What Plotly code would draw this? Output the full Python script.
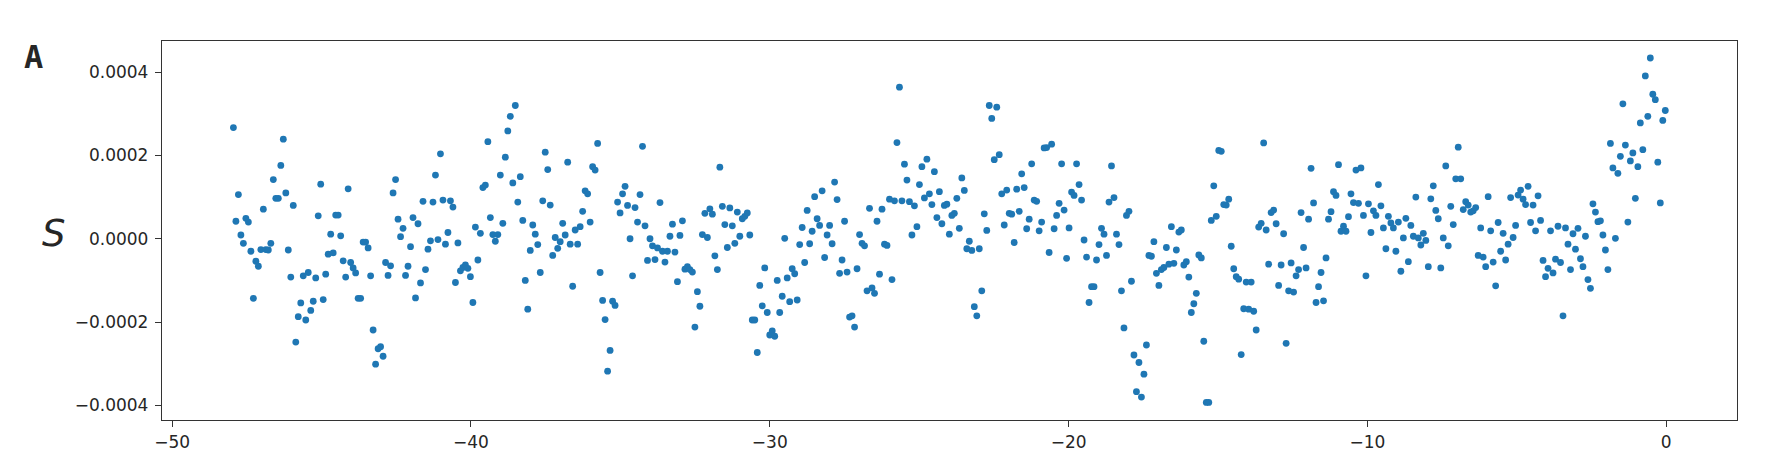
import numpy as np
import plotly.graph_objects as go

# Sampling grid (time axis): first and last sample position
X_FIRST = -47.95
X_LAST = -0.03

# S values in units of 1e-5, read left to right
S_1E5 = [
    26.7, 4.2, 10.6, 0.9, -1.1, 4.9, 4.0, -3.0, -14.3, -5.4,
    -6.6, -2.6, 7.1, -2.6, -2.7, -1.1, 14.2, 9.7, 9.7, 17.6,
    23.9, 11.0, -2.7, -9.2, 8.0, -24.8, -18.7, -15.4, -8.9, -19.5,
    -8.1, -17.2, -15.0, -9.4, 5.5, 13.1, -14.6, -8.5, -3.7, 1.1,
    -3.4, 5.7, 5.7, 0.7, -5.3, -9.2, 12.0,
    -5.7, -7.0, -8.2, -14.3, -14.3, -0.8, -0.8, -2.2, -8.9, -21.9,
    -30.1, -26.4, -25.9, -28.2, -5.7, -8.8, -6.5, 11.0, 14.2, 4.7,
    0.5, 2.5, -8.8, -6.6, -1.9, 5.1, -14.2, 3.6, -10.6, 9.0,
    -7.4, -2.5, -0.5, 8.8, 15.3, -0.2, 20.4, 9.3, -1.3, 1.5,
    9.1, 7.6, -10.5, -1.0, -7.7, -6.9, -6.3, -7.1, -9.1, -15.3,
    2.8, -5.1, 1.3, 12.3, 12.9, 23.3, 5.1, 1.0, -0.6, 1.0,
    15.3, 3.7, 19.6, 25.9, 29.4, 13.4, 32.0, 8.8, 14.9, 4.4,
    -10.0, -16.9, -2.8, 3.3, 1.1, -1.4, -8.1, 9.1, 20.8, 16.6,
    8.1, -4.0, 0.3, -2.3, -0.7, 3.7, 0.9, 18.4, -1.3, -11.4,
    2.1, -1.3, 2.9, 6.6, 11.5, 10.8, 4.0, 17.3, 16.5, 22.9,
    -8.1, -14.8, -19.4, -31.8, -26.8, -15.0, -16.0, 8.8, 6.2, 10.8,
    12.6, 8.0, 0.0, -8.9, 7.5, 4.0, 10.6, 22.2, 3.1, -5.2,
    0.0, -1.7, -5.0, -2.2, 8.7, -3.0, -5.6, -3.0, 0.6, 3.5,
    -3.2, -10.3, 0.8, 4.3, -7.3, -6.7, -7.4, -8.0, -21.2, -12.7,
    -16.2, 1.0, 6.1, 0.3, 7.2, 5.9, -4.1, -7.4, 17.2, 7.8,
    3.4, -2.1, 7.4, 3.1, -1.1, 6.4, 0.6, 4.8, 5.4, 6.2,
    0.9, -19.5, -19.5, -27.3, -11.2, -16.1, -7.0, -17.7, -23.1, -22.1,
    -23.4, -10.0, -17.7, -13.8, 0.1, -9.4, -15.1, -7.2, -8.4, -14.7,
    -1.4, 2.7, -5.7, 6.8, -1.2, 1.8, 10.1, 4.8, 3.2, 11.5,
    -4.5, 0.9, 3.2, -1.2, 13.6, 9.4, -8.3, -5.1, 4.2, -8.0,
    -18.8, -18.5, -21.2, -7.2, 1.0, -1.1, -1.7, -12.5, 7.3, -11.8,
    -13.1, 4.2, -8.5, 7.1, -1.3, -1.6, 9.5, -9.8, 9.1, 23.1,
    36.4, 9.1, 17.9, 14.1, 8.9, 0.9, 7.9, 2.9, 13.0, 17.3,
    9.8, 19.1, 10.8, 8.2, 16.1, 5.1, 11.3, 3.6, 8.0, 8.3,
    1.1, 5.6, 6.1, 9.7, 2.5, 14.6, 11.6, -2.4, -0.6, -2.8,
    -16.3, -18.5, -2.4, -12.5, 6.0, 2.0, 32.0, 28.9, 19.0, 31.6,
    20.2, 10.8, 3.3, 11.7, 6.1, 5.9, -0.9, 11.9, 6.6, 15.6,
    12.3, 2.4, 4.7, 18.0, 9.3, 9.0, 1.9, 4.0, 21.8, 21.9,
    -3.3, 22.7, 2.4, 5.6, 8.5, 18.0, 6.9, -4.7, 2.6, 11.2,
    10.4, 18.0, 13.0, 9.3, -0.3, -4.4, -15.3, -11.5, -11.5, -5.1,
    -1.4, 2.5, 1.1, -4.0, 8.8, 17.5, 9.9, 1.1, -1.4, -12.5,
    -21.4, 5.6, 6.6, -10.2, -27.9, -36.7, -29.7, -38.0, -32.5, -25.5,
    -4.0, -4.2, -0.7, -8.3, -11.2, -7.4, -6.9, -2.1, -6.1, 2.9,
    -5.9, -2.7, 1.6, 2.1, -6.3, -5.5, -9.2, -17.7, -15.6, -13.1,
    -3.9, -4.6, -24.6, -39.3, -39.3, 4.4, 12.7, 5.4, 21.2, 21.0,
    8.2, 8.1, 9.5, -1.8, -7.2, -9.1, -9.7, -27.8, -16.8, -10.4,
    -16.9, -10.4, -17.4, -21.9, 2.8, 3.7, 23.0, 2.1, -6.1, 6.3,
    6.9, 3.6, -11.2, -6.3, 1.2, -25.1, -12.5, -5.8, -12.8, -8.9,
    -7.4, 6.3, -2.1, -7.0, 4.7, 16.9, 8.6, -15.3, -11.5, -8.1,
    -14.9, -4.6, 4.7, 6.5, 11.3, 10.4, 17.8, 1.8, 3.0, 1.8,
    5.3,
    10.8, 8.7, 16.5, 8.5, 17.0, 5.6, -8.9, 8.4, 1.5, 6.7,
    5.6, 13.0, 7.9, 2.6, -2.4, 5.4, 3.8, 2.6, -3.0, 4.0,
    -7.8, 0.2, 4.9, -5.5, 3.2, 0.6, 10.0, 0.2, -1.5, 1.3,
    -0.4, -6.7, 9.6, 12.7, 6.8, 4.8, -7.0, 0.2, 17.5, -1.7,
    7.8, 3.4, 14.4, 22.0, 14.4, 7.0, 8.9, 8.1, 6.4, 6.7,
    7.5, -4.0, 2.6, -4.4, -6.7, 10.1, 1.9, -5.6, -11.3, 3.9,
    -3.0, 1.3, -5.1, -1.3, 9.9, 0.3, 3.2, 10.5, 11.7, 9.5,
    8.2, 12.6, 3.9, 8.1, 1.9, 10.3, 4.4, -5.2, -9.1, -7.1,
    1.9, -8.2, -4.9, 3.0, -5.7, -18.5, 2.6, -1.3, -7.4, 1.2,
    -2.5, 2.5, -4.8, -6.7, 0.6, -9.8, -11.9, 8.4, 6.4, 4.1,
    4.3, 0.9, -2.7, -7.4, 22.9, 17.0, 0.1, 15.7, 19.8, 32.4,
    22.5, 4.0, 18.7, 20.6, 9.7, 17.3, 27.8, 21.4, 39.1, 29.4,
    43.4, 34.7, 33.4, 18.4, 8.6, 28.4, 30.8,
]

X_TICKS = [-50, -40, -30, -20, -10, 0]
Y_TICKS = [-0.0004, -0.0002, 0.0, 0.0002, 0.0004]

s = np.array(S_1E5) * 1e-5
t = np.linspace(X_FIRST, X_LAST, len(s))

fig = go.Figure()
fig.add_trace(go.Scatter(
    x=t, y=s, mode="markers",
    marker=dict(color="#1f77b4", size=6.8, line=dict(width=0)),
    showlegend=False,
))

axis_common = dict(
    showline=True, linecolor="#333333", linewidth=1.3, mirror=True,
    ticks="outside", ticklen=6, tickwidth=1.2, tickcolor="#333333",
    showgrid=False, zeroline=False,
    tickfont=dict(family="DejaVu Sans", size=17, color="#262626"),
)

# The page body keeps an 8px margin, so the figure is 8px smaller on each
# axis and the margins compensate for the offset.
fig.update_layout(
    width=1780, height=456,
    margin=dict(l=154, r=51, t=33, b=40),
    paper_bgcolor="white", plot_bgcolor="white",
    xaxis=dict(range=[-50.34, 2.37], tickvals=X_TICKS, **axis_common),
    yaxis=dict(range=[-0.0004351, 0.0004748], tickvals=Y_TICKS,
               tickformat=".4f", ticklabelstandoff=3, **axis_common),
    annotations=[
        dict(text="<i>S</i>", xref="paper", yref="paper", x=-0.0686, y=0.492,
             xanchor="center", yanchor="middle", showarrow=False,
             font=dict(family="DejaVu Sans", size=37, color="#262626")),
        dict(text="<b>A</b>", xref="paper", yref="paper", x=-0.0813, y=1.012,
             xanchor="center", yanchor="top", showarrow=False,
             font=dict(family="DejaVu Sans Mono", size=32, color="#262626")),
    ],
)

fig.write_html("out.html")
